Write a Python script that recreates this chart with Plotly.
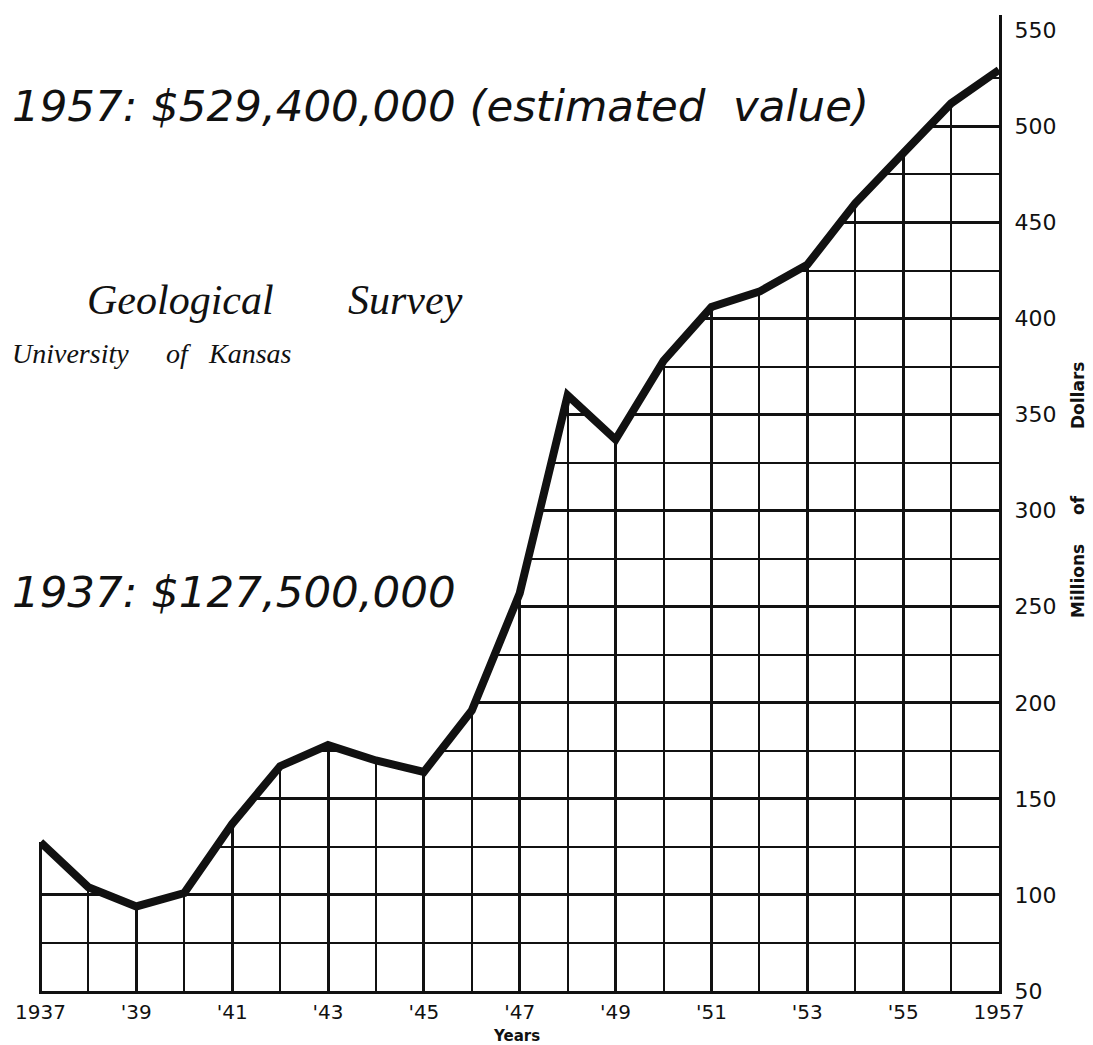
import plotly.graph_objects as go

# ---- data ----
years = list(range(1937, 1958))
values = [127.5, 104, 94, 101, 137, 167, 178, 170, 164, 196, 257,
          360, 337, 378, 406, 414, 428, 460, 486, 512, 529.4]

x_tick_vals = [1937, 1939, 1941, 1943, 1945, 1947, 1949, 1951, 1953, 1955, 1957]
x_tick_text = ["1937", "'39", "'41", "'43", "'45", "'47", "'49", "'51", "'53", "'55", "1957"]
y_tick_vals = [50, 100, 150, 200, 250, 300, 350, 400, 450, 500, 550]
y_tick_text = ["50", "100", "150", "200", "250", "300", "350", "400", "450", "500", "550"]

X_MIN, X_MAX = 1936.97, 1957
Y_MIN, Y_MAX = 50, 558
INK = "#111111"

fig = go.Figure()

# white mask above the curve so the grid only shows beneath it
fig.add_trace(go.Scatter(
    x=[X_MIN - 1] + years + [X_MAX, X_MIN - 1],
    y=[values[0]] + values + [Y_MAX + 20, Y_MAX + 20],
    fill="toself", fillcolor="white", mode="lines",
    line=dict(width=0, color="white"), hoverinfo="skip", showlegend=False))

# the value line
fig.add_trace(go.Scatter(
    x=years, y=values, mode="lines",
    line=dict(color=INK, width=8), showlegend=False,
    hovertemplate="%{x}: $%{y}M<extra></extra>"))

fig.update_layout(
    width=1093, height=1045,
    margin=dict(l=31, r=102, t=7, b=62),
    paper_bgcolor="white", plot_bgcolor="white",
    showlegend=False,
    font=dict(family="DejaVu Sans", color=INK),
)

fig.update_xaxes(
    range=[X_MIN, X_MAX], tickmode="array",
    tickvals=x_tick_vals, ticktext=x_tick_text,
    showgrid=True, gridcolor=INK, gridwidth=3,
    minor=dict(dtick=1, tick0=1937, showgrid=True, gridcolor=INK, gridwidth=2),
    showline=True, linecolor=INK, linewidth=3, ticks="",
    tickfont=dict(size=20, color=INK), ticklabelstandoff=1,
    zeroline=False, fixedrange=True,
)
fig.update_yaxes(
    range=[Y_MIN, Y_MAX], side="right", tickmode="array",
    tickvals=y_tick_vals, ticktext=y_tick_text,
    showgrid=True, gridcolor=INK, gridwidth=3,
    minor=dict(dtick=25, tick0=50, showgrid=True, gridcolor=INK, gridwidth=2),
    showline=True, linecolor=INK, linewidth=3, ticks="",
    tickfont=dict(size=22, color=INK), ticklabelstandoff=8,
    zeroline=False, fixedrange=True,
)

ital = dict(family="DejaVu Sans", size=43.5, color=INK)
script = dict(family="Liberation Serif", size=42, color=INK)
script2 = dict(family="Liberation Serif", size=28, color=INK)
label = dict(family="DejaVu Sans", size=17, color=INK, weight="bold")

annotations = [
    dict(text="<i>1957: $529,400,000 (estimated  value)</i>", x=-0.0302, y=0.9068,
         xanchor="left", yanchor="middle", font=ital),
    dict(text="<i>1937: $127,500,000</i>", x=-0.0302, y=0.4088,
         xanchor="left", yanchor="middle", font=ital),
    dict(text="<i>Geological</i>", x=0.0479, y=0.708, xanchor="left", yanchor="middle", font=script),
    dict(text="<i>Survey</i>", x=0.3198, y=0.708, xanchor="left", yanchor="middle", font=script),
    dict(text="<i>University</i>", x=-0.0302, y=0.6527, xanchor="left", yanchor="middle", font=script2),
    dict(text="<i>of</i>", x=0.145, y=0.6527, xanchor="center", yanchor="middle", font=script2),
    dict(text="<i>Kansas</i>", x=0.174, y=0.6527, xanchor="left", yanchor="middle", font=script2),
    dict(text="Millions", x=1.0823, y=0.4201, textangle=-90, xanchor="center", yanchor="middle", font=label),
    dict(text="of", x=1.0823, y=0.498, textangle=-90, xanchor="center", yanchor="middle", font=label),
    dict(text="Dollars", x=1.0823, y=0.6096, textangle=-90, xanchor="center", yanchor="middle", font=label),
    dict(text="Years", x=0.4979, y=-0.0461, xanchor="center", yanchor="middle", borderpad=0,
         font=dict(family="DejaVu Sans", size=15, color=INK, weight="bold")),
]
for a in annotations:
    a.update(xref="paper", yref="paper", showarrow=False)
fig.update_layout(annotations=annotations)

fig.write_html("out.html")
